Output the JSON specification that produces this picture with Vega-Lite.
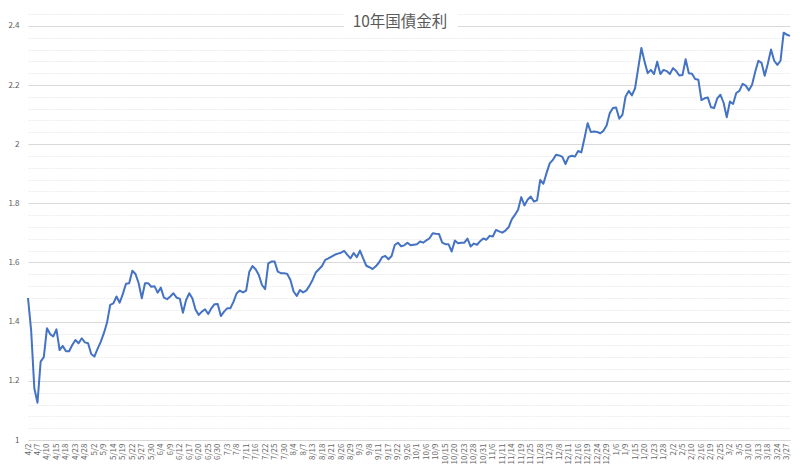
{
  "$schema": "https://vega.github.io/schema/vega-lite/v6.json",
  "width": 762,
  "height": 426,
  "autosize": {"type": "none"},
  "padding": {"left": 28, "top": 14, "right": 10, "bottom": 28},
  "background": "#ffffff",
  "config": {"view": {"stroke": null}, "font": "Noto Sans CJK JP"},
  "title": {"text": "10年国債金利", "fontSize": 15.5, "font": "Noto Sans CJK JP", "fontWeight": "normal", "color": "#595959", "anchor": "middle", "frame": "group", "offset": -31, "baseline": "alphabetic", "dx": -9},
  "data": {"values": [
    {"d":"4/2","v":1.48},{"d":"4/3","v":1.37},{"d":"4/4","v":1.175},{"d":"4/7","v":1.126},{"d":"4/8","v":1.265},{"d":"4/9","v":1.28},{"d":"4/10","v":1.378},{"d":"4/11","v":1.358},{"d":"4/14","v":1.35},{"d":"4/15","v":1.374},
    {"d":"4/16","v":1.304},{"d":"4/17","v":1.318},{"d":"4/18","v":1.30},{"d":"4/21","v":1.30},{"d":"4/22","v":1.321},{"d":"4/23","v":1.338},{"d":"4/24","v":1.327},{"d":"4/25","v":1.344},{"d":"4/28","v":1.33},{"d":"4/30","v":1.327},
    {"d":"5/1","v":1.291},{"d":"5/2","v":1.282},{"d":"5/7","v":1.308},{"d":"5/8","v":1.332},{"d":"5/9","v":1.361},{"d":"5/12","v":1.397},{"d":"5/13","v":1.457},{"d":"5/14","v":1.462},{"d":"5/15","v":1.485},{"d":"5/16","v":1.464},
    {"d":"5/19","v":1.494},{"d":"5/20","v":1.528},{"d":"5/21","v":1.53},{"d":"5/22","v":1.572},{"d":"5/23","v":1.561},{"d":"5/26","v":1.53},{"d":"5/27","v":1.479},{"d":"5/28","v":1.53},{"d":"5/29","v":1.53},{"d":"5/30","v":1.518},
    {"d":"6/2","v":1.52},{"d":"6/3","v":1.498},{"d":"6/4","v":1.515},{"d":"6/5","v":1.481},{"d":"6/6","v":1.476},{"d":"6/9","v":1.485},{"d":"6/10","v":1.496},{"d":"6/11","v":1.481},{"d":"6/12","v":1.478},{"d":"6/13","v":1.43},
    {"d":"6/16","v":1.473},{"d":"6/17","v":1.496},{"d":"6/18","v":1.478},{"d":"6/19","v":1.44},{"d":"6/20","v":1.423},{"d":"6/23","v":1.434},{"d":"6/24","v":1.442},{"d":"6/25","v":1.426},{"d":"6/26","v":1.445},{"d":"6/27","v":1.459},
    {"d":"6/30","v":1.46},{"d":"7/1","v":1.419},{"d":"7/2","v":1.434},{"d":"7/3","v":1.445},{"d":"7/4","v":1.445},{"d":"7/7","v":1.468},{"d":"7/8","v":1.496},{"d":"7/9","v":1.505},{"d":"7/10","v":1.499},{"d":"7/11","v":1.505},
    {"d":"7/14","v":1.569},{"d":"7/15","v":1.588},{"d":"7/16","v":1.577},{"d":"7/17","v":1.558},{"d":"7/18","v":1.524},{"d":"7/22","v":1.51},{"d":"7/23","v":1.597},{"d":"7/24","v":1.603},{"d":"7/25","v":1.603},{"d":"7/28","v":1.569},
    {"d":"7/29","v":1.564},{"d":"7/30","v":1.564},{"d":"7/31","v":1.561},{"d":"8/1","v":1.541},{"d":"8/4","v":1.502},{"d":"8/5","v":1.487},{"d":"8/6","v":1.507},{"d":"8/7","v":1.499},{"d":"8/8","v":1.505},{"d":"8/12","v":1.521},
    {"d":"8/13","v":1.541},{"d":"8/14","v":1.566},{"d":"8/15","v":1.577},{"d":"8/18","v":1.588},{"d":"8/19","v":1.609},{"d":"8/20","v":1.614},{"d":"8/21","v":1.62},{"d":"8/22","v":1.626},{"d":"8/25","v":1.63},{"d":"8/26","v":1.633},
    {"d":"8/27","v":1.639},{"d":"8/28","v":1.626},{"d":"8/29","v":1.614},{"d":"9/1","v":1.632},{"d":"9/2","v":1.618},{"d":"9/3","v":1.64},{"d":"9/4","v":1.614},{"d":"9/5","v":1.589},{"d":"9/8","v":1.584},{"d":"9/9","v":1.578},
    {"d":"9/10","v":1.587},{"d":"9/11","v":1.60},{"d":"9/12","v":1.618},{"d":"9/16","v":1.622},{"d":"9/17","v":1.611},{"d":"9/18","v":1.622},{"d":"9/19","v":1.659},{"d":"9/22","v":1.667},{"d":"9/24","v":1.655},{"d":"9/25","v":1.658},
    {"d":"9/26","v":1.667},{"d":"9/29","v":1.658},{"d":"9/30","v":1.66},{"d":"10/1","v":1.662},{"d":"10/2","v":1.671},{"d":"10/3","v":1.667},{"d":"10/6","v":1.675},{"d":"10/7","v":1.682},{"d":"10/8","v":1.699},{"d":"10/9","v":1.697},
    {"d":"10/10","v":1.696},{"d":"10/14","v":1.667},{"d":"10/15","v":1.662},{"d":"10/16","v":1.662},{"d":"10/17","v":1.637},{"d":"10/20","v":1.674},{"d":"10/21","v":1.665},{"d":"10/22","v":1.667},{"d":"10/23","v":1.667},{"d":"10/24","v":1.681},
    {"d":"10/27","v":1.654},{"d":"10/28","v":1.664},{"d":"10/29","v":1.66},{"d":"10/30","v":1.672},{"d":"10/31","v":1.681},{"d":"11/4","v":1.677},{"d":"11/5","v":1.69},{"d":"11/6","v":1.688},{"d":"11/7","v":1.71},{"d":"11/10","v":1.705},
    {"d":"11/11","v":1.701},{"d":"11/12","v":1.708},{"d":"11/13","v":1.719},{"d":"11/14","v":1.746},{"d":"11/17","v":1.761},{"d":"11/18","v":1.778},{"d":"11/19","v":1.821},{"d":"11/20","v":1.793},{"d":"11/21","v":1.812},{"d":"11/25","v":1.823},
    {"d":"11/26","v":1.806},{"d":"11/27","v":1.81},{"d":"11/28","v":1.879},{"d":"12/1","v":1.866},{"d":"12/2","v":1.902},{"d":"12/3","v":1.935},{"d":"12/4","v":1.947},{"d":"12/5","v":1.964},{"d":"12/8","v":1.962},{"d":"12/9","v":1.957},
    {"d":"12/10","v":1.933},{"d":"12/11","v":1.957},{"d":"12/12","v":1.961},{"d":"12/15","v":1.958},{"d":"12/16","v":1.977},{"d":"12/17","v":1.972},{"d":"12/18","v":2.02},{"d":"12/19","v":2.071},{"d":"12/22","v":2.041},{"d":"12/23","v":2.043},
    {"d":"12/24","v":2.041},{"d":"12/25","v":2.037},{"d":"12/26","v":2.045},{"d":"12/29","v":2.063},{"d":"12/30","v":2.105},{"d":"1/5","v":2.122},{"d":"1/6","v":2.124},{"d":"1/7","v":2.086},{"d":"1/8","v":2.099},{"d":"1/9","v":2.161},
    {"d":"1/13","v":2.18},{"d":"1/14","v":2.165},{"d":"1/15","v":2.189},{"d":"1/16","v":2.257},{"d":"1/19","v":2.325},{"d":"1/20","v":2.279},{"d":"1/21","v":2.24},{"d":"1/22","v":2.251},{"d":"1/23","v":2.237},{"d":"1/26","v":2.279},
    {"d":"1/27","v":2.237},{"d":"1/28","v":2.251},{"d":"1/29","v":2.247},{"d":"1/30","v":2.237},{"d":"2/2","v":2.257},{"d":"2/3","v":2.247},{"d":"2/4","v":2.232},{"d":"2/5","v":2.234},{"d":"2/6","v":2.287},{"d":"2/9","v":2.24},
    {"d":"2/10","v":2.238},{"d":"2/12","v":2.22},{"d":"2/13","v":2.218},{"d":"2/16","v":2.149},{"d":"2/17","v":2.155},{"d":"2/18","v":2.158},{"d":"2/19","v":2.125},{"d":"2/20","v":2.122},{"d":"2/24","v":2.155},{"d":"2/25","v":2.167},
    {"d":"2/26","v":2.14},{"d":"2/27","v":2.091},{"d":"3/2","v":2.144},{"d":"3/3","v":2.136},{"d":"3/4","v":2.173},{"d":"3/5","v":2.18},{"d":"3/6","v":2.204},{"d":"3/9","v":2.198},{"d":"3/10","v":2.182},{"d":"3/11","v":2.201},
    {"d":"3/12","v":2.245},{"d":"3/13","v":2.282},{"d":"3/16","v":2.275},{"d":"3/17","v":2.231},{"d":"3/18","v":2.273},{"d":"3/19","v":2.32},{"d":"3/23","v":2.282},{"d":"3/24","v":2.268},{"d":"3/25","v":2.282},{"d":"3/26","v":2.377},
    {"d":"3/27","v":2.37},{"d":"3/30","v":2.366}
  ]},
  "encoding": {
    "x": {
      "field": "d", "type": "ordinal", "sort": null,
      "scale": {"type": "point", "padding": 0},
      "axis": {
        "title": null,
        "values": ["4/2","4/7","4/10","4/15","4/18","4/23","4/28","5/2","5/9","5/14","5/19","5/22","5/27","5/30","6/4","6/9","6/12","6/17","6/20","6/25","6/30","7/3","7/8","7/11","7/16","7/22","7/25","7/30","8/4","8/7","8/13","8/18","8/21","8/26","8/29","9/3","9/8","9/11","9/17","9/22","9/26","10/1","10/6","10/9","10/15","10/20","10/23","10/28","10/31","11/6","11/11","11/14","11/19","11/25","11/28","12/3","12/8","12/11","12/16","12/19","12/24","12/29","1/6","1/9","1/15","1/20","1/23","1/28","2/2","2/5","2/10","2/16","2/19","2/25","3/2","3/5","3/10","3/13","3/18","3/24","3/27"],
        "labelAngle": -90, "labelFontSize": 8, "labelColor": "#666666", "labelPadding": 3,
        "ticks": false, "grid": false, "domainColor": "#d9d9d9", "domainWidth": 1, "labelOverlap": false
      }
    },
    "y": {
      "field": "v", "type": "quantitative",
      "scale": {"domain": [1, 2.44], "nice": false, "zero": false},
      "axis": {
        "title": null,
        "values": [1,1.04,1.08,1.12,1.16,1.2,1.24,1.28,1.32,1.36,1.4,1.44,1.48,1.52,1.56,1.6,1.64,1.68,1.72,1.76,1.8,1.84,1.88,1.92,1.96,2,2.04,2.08,2.12,2.16,2.2,2.24,2.28,2.32,2.36,2.4,2.44],
        "labelExpr": "abs(datum.value*5 - round(datum.value*5)) < 0.01 ? format(datum.value, '~g') : ''",
        "labelFontSize": 8, "labelColor": "#595959", "labelPadding": 9,
        "ticks": false, "domain": false,
        "gridColor": {"condition": {"test": "abs(datum.value*5 - round(datum.value*5)) < 0.01", "value": "#d9d9d9"}, "value": "#ededed"},
        "gridDash": {"condition": {"test": "abs(datum.value*5 - round(datum.value*5)) < 0.01", "value": []}, "value": [2, 1]},
        "gridWidth": 1
      }
    }
  },
  "layer": [
    {
      "mark": {"type": "line", "color": "#4472C4", "strokeWidth": 2, "strokeJoin": "round"}
    },
    {
      "mark": {"type": "rect", "color": "#ffffff"},
      "encoding": {
        "x": {"datum": "8/27"},
        "x2": {"datum": "10/21"},
        "y": {"datum": 2.38},
        "y2": {"datum": 2.45}
      }
    }
  ]
}
